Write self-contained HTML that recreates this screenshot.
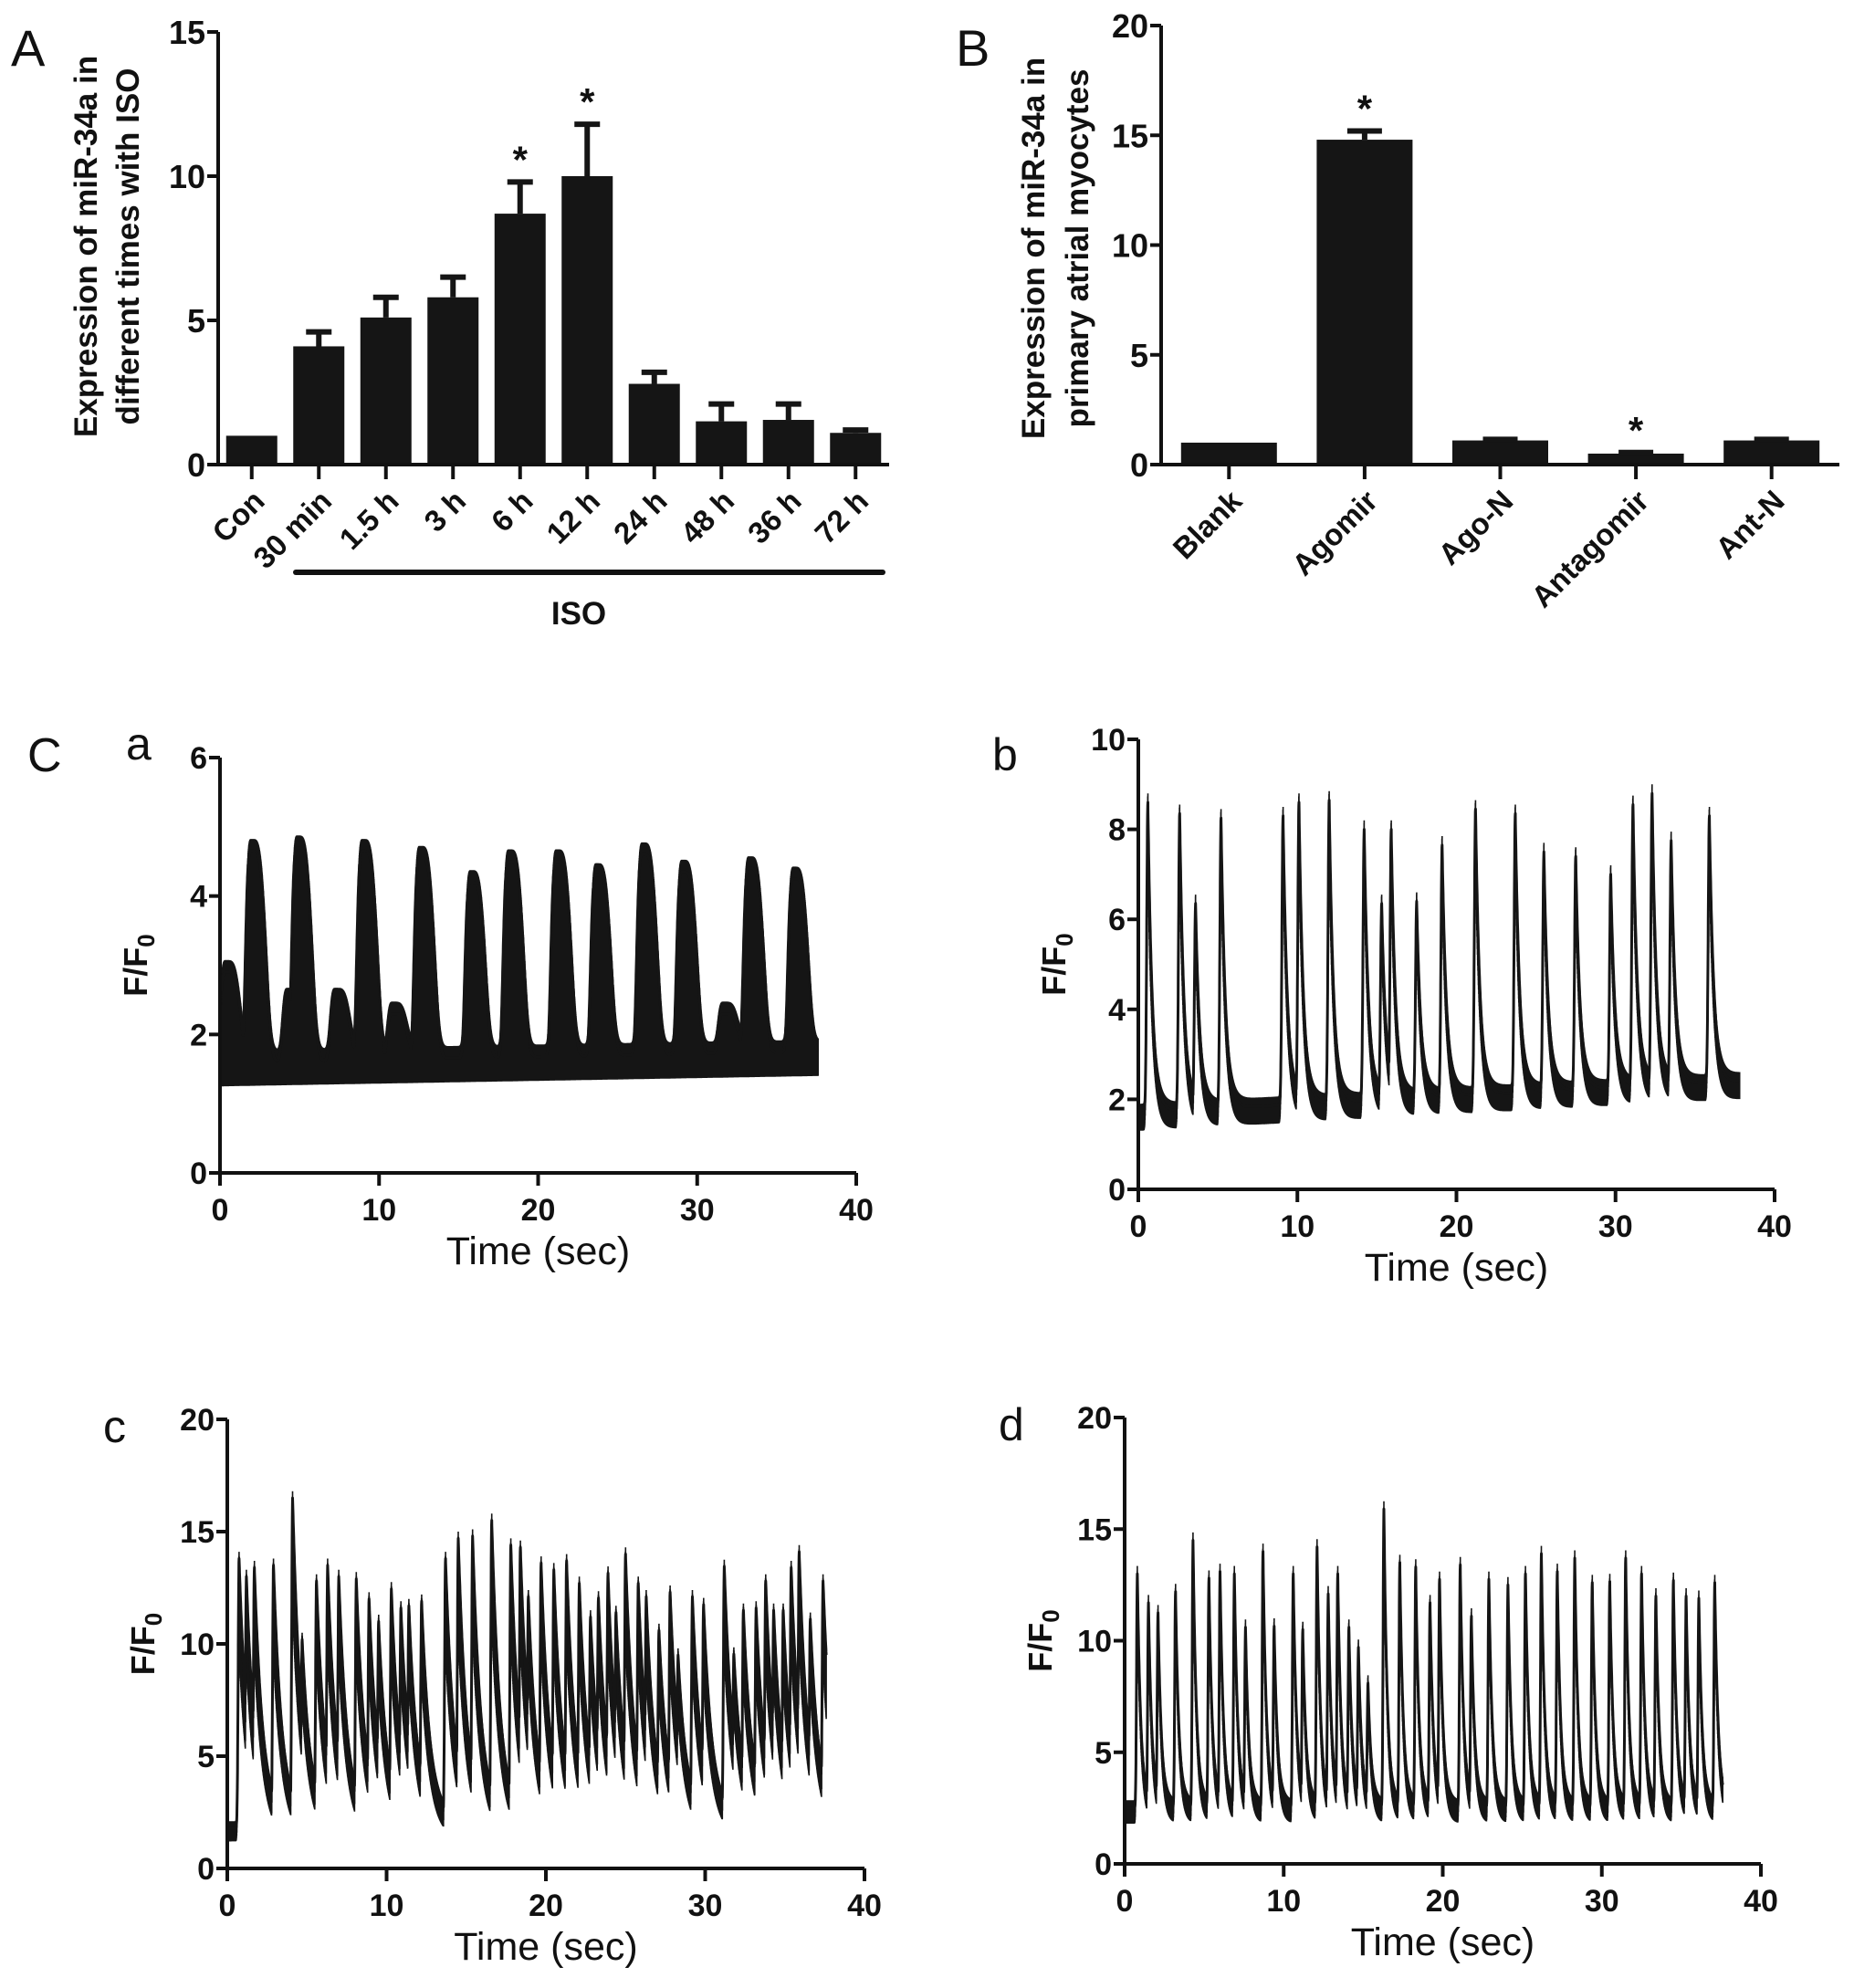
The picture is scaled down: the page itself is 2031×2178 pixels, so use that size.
<!DOCTYPE html>
<html><head><meta charset="utf-8"><style>
html,body{margin:0;padding:0;background:#fff;}
svg{display:block;}
text{font-family:"Liberation Sans",Arial,sans-serif;fill:#111;}
</style></head><body>
<svg id="fig" width="2031" height="2178" viewBox="0 0 2031 2178" xmlns="http://www.w3.org/2000/svg">
<text x="12" y="72" font-size="56">A</text>
<text x="1047" y="72" font-size="56">B</text>
<text x="30" y="845" font-size="52">C</text>
<text x="138" y="832" font-size="50">a</text>
<text x="1087" y="844" font-size="50">b</text>
<text x="113" y="1580" font-size="50">c</text>
<text x="1094" y="1578" font-size="50">d</text>
</svg>
<script>
// ---- Panel A data ----
const catsA = ["Con","30 min","1.5 h","3 h","6 h","12 h","24 h","48 h","36 h","72 h"];
const valsA = [1.0,4.1,5.1,5.8,8.7,10.0,2.8,1.5,1.55,1.1];
const errA  = [0.0,0.5,0.7,0.7,1.1,1.8,0.4,0.6,0.55,0.1];
const sigA  = [0,0,0,0,1,1,0,0,0,0];
const ticksA = [0,5,10,15];
// ---- Panel B data ----
const catsB = ["Blank","Agomir","Ago-N","Antagomir","Ant-N"];
const valsB = [1.0,14.8,1.1,0.5,1.1];
const errB  = [0.0,0.4,0.05,0.05,0.05];
const sigB  = [0,1,0,1,0];
const ticksB = [0,5,10,15,20];
// ---- Trace a ----
const peakTA = [2.0,4.9,9.0,12.6,15.8,18.2,21.2,23.7,26.6,29.1,33.3,36.1,0.4,4.3,7.3,10.9,31.7];
const peakVA = [4.65,4.7,4.65,4.55,4.2,4.5,4.5,4.3,4.6,4.35,4.4,4.25,2.9,2.5,2.5,2.3,2.3];
const ticksYa = [0,2,4,6];
// ---- Trace b ----
const peakTB = [0.6,2.6,3.6,5.2,9.1,10.1,12.0,14.2,15.3,15.9,17.5,19.1,21.2,23.7,25.5,27.5,29.7,31.1,32.3,33.5,35.9];
const peakVB = [8.6,8.35,6.35,8.25,8.3,8.6,8.65,8.0,6.35,8.0,6.4,7.65,8.45,8.35,7.5,7.4,7.0,8.55,8.8,7.75,8.3];
const ticksYb = [0,2,4,6,8,10];
// ---- Trace c ----
const peakTC = [0.74,1.2,1.7,2.9,4.1,4.7,5.6,6.3,7.0,8.1,8.9,9.5,10.3,10.9,11.4,12.2,13.7,14.5,15.4,16.6,17.8,18.4,18.9,19.7,20.5,21.3,22.1,22.8,23.3,23.9,24.4,25.0,25.8,26.3,27.1,27.8,28.3,29.2,29.9,31.2,31.8,32.4,33.2,33.8,34.3,34.9,35.4,35.9,36.6,37.4];
const peakVC = [13.8,13.0,13.4,13.5,16.5,10.2,12.8,13.5,13.0,12.9,12.0,11.0,12.45,11.6,11.7,11.9,13.8,14.7,14.8,15.5,14.4,14.3,12.1,13.6,13.3,13.7,12.7,11.2,12.05,13.15,11.4,14.0,12.7,12.1,10.6,12.3,9.5,12.1,11.75,13.45,9.55,11.5,11.6,12.8,11.5,11.5,13.4,14.1,11.1,12.8];
const ticksYc = [0,5,10,15,20];
// ---- Trace d ----
const peakTD = [0.8,1.5,2.1,3.2,4.3,5.3,6.0,6.9,7.6,8.7,9.4,10.6,11.2,12.1,12.8,13.4,14.1,14.7,15.3,16.3,17.3,18.3,19.2,19.8,21.1,21.8,22.9,24.1,25.2,26.2,27.2,28.3,29.4,30.5,31.5,32.5,33.4,34.5,35.3,36.1,37.1];
const peakVD = [13.0,11.7,11.25,12.2,14.5,12.8,13.1,13.0,10.6,14.0,10.65,13.0,10.5,14.2,12.1,13.0,10.6,9.7,8.1,15.9,13.5,13.3,11.7,12.75,13.4,11.1,12.75,12.5,13.0,13.9,13.1,13.7,12.6,12.65,13.7,13.0,12.0,12.7,12.0,11.9,12.6];
const ticksYd = [0,5,10,15,20];
const ticksX = [0,10,20,30,40];

const NS="http://www.w3.org/2000/svg";
const svg=document.getElementById('fig');
function mk(tag,attrs,parent){const e=document.createElementNS(NS,tag);for(const k in attrs)e.setAttribute(k,attrs[k]);(parent||svg).appendChild(e);return e;}

function barPanel(cfg,cats,vals,errs,sig,ticks,name){
  const g=mk('g',{});
  
  
  const ys=v=>cfg.y0-(v/cfg.ymax)*(cfg.y0-cfg.ytop);
  const band=(cfg.x1-cfg.x0)/cats.length;
  const xs=i=>cfg.x0+(i+0.5)*band;
  cats.forEach((c,i)=>{
    const cx=xs(i),bw=cfg.bw;
    const r=mk('rect',{x:cx-bw/2,y:ys(vals[i]),width:bw,height:cfg.y0-ys(vals[i]),fill:'#151515'},g);
    
    
    if(errs[i]>0){
      const top=ys(vals[i]+errs[i]);
      const l=mk('path',{d:`M${cx},${ys(vals[i])}V${top}M${cx-cfg.cap/2},${top}H${cx+cfg.cap/2}`,stroke:'#151515','stroke-width':6,fill:'none'},g);
      
      
    }
    if(sig[i]){
      const s=mk('text',{x:cx,y:ys(vals[i]+errs[i])-10,'font-size':42,'font-weight':'bold','text-anchor':'middle'},g);
      s.textContent='*';
      
      
    }
    mk('line',{x1:cx,x2:cx,y1:cfg.y0,y2:cfg.y0+16,stroke:'#111','stroke-width':4},g);
    const t=mk('text',{x:0,y:0,'font-size':33,'font-weight':'bold','text-anchor':'end',transform:`translate(${cx+16},${cfg.y0+42}) rotate(-45)`},g);
    t.textContent=c;
    
    
  });
  const ax=mk('path',{d:`M${cfg.x0},${cfg.ytop}V${cfg.y0}H${cfg.x1}`,stroke:'#111','stroke-width':4,fill:'none'},g);
  
  
  ticks.forEach(v=>{
    mk('line',{x1:cfg.x0-12,x2:cfg.x0,y1:ys(v),y2:ys(v),stroke:'#111','stroke-width':4},g);
    const t=mk('text',{x:cfg.x0-14,y:ys(v)+13,'font-size':36,'font-weight':'bold','text-anchor':'end'},g);
    t.textContent=v;
    
    
  });
  cfg.title.forEach((line,k)=>{
    const t=mk('text',{x:0,y:0,'font-size':35,'font-weight':'bold','text-anchor':'middle',transform:`translate(${cfg.titleX[k]},${cfg.titleY}) rotate(-90)`},g);
    t.textContent=line;
    
    
  });
}

barPanel({x0:239,x1:974,y0:509,ytop:35,ymax:15,bw:56,cap:28,title:["Expression of miR-34a in","different times with ISO"],titleX:[106,152],titleY:270},catsA,valsA,errA,sigA,ticksA,'bar-chart-a');
barPanel({x0:1272,x1:2015,y0:509,ytop:28,ymax:20,bw:105,cap:38,title:["Expression of miR-34a in","primary atrial myocytes"],titleX:[1144,1192],titleY:272},catsB,valsB,errB,sigB,ticksB,'bar-chart-b');

const iso=mk('line',{x1:324,x2:967,y1:627,y2:627,stroke:'#111','stroke-width':6,'stroke-linecap':'round'});


const isoT=mk('text',{x:634,y:684,'font-size':35,'font-weight':'bold','text-anchor':'middle'});
isoT.textContent='ISO';



function tracePanel(cfg,pt,pv,yticks,name){
  const g=mk('g',{});
  
  
  const xs=t=>cfg.x0+(t/40)*(cfg.x1-cfg.x0);
  const ys=v=>cfg.y0-(v/cfg.ymax)*(cfg.y0-cfg.ytop);
  const pts=[];let seg='';
  for(let t=0;t<=cfg.tend+1e-9;t+=0.01){
    const base=cfg.b0+(cfg.b1-cfg.b0)*(t/cfg.tend);
    let v=base;
    for(let i=0;i<pt.length;i++){
      const dt=t-pt[i],A=pv[i]-base;
      let gval;
      if(cfg.broad){gval=dt<0?Math.exp(-Math.pow(-dt/cfg.wl,4)):Math.exp(-Math.pow(dt/cfg.wr,4));}
      else{gval=dt<0?Math.exp(-Math.pow(dt/cfg.wl,2)):Math.exp(-dt/cfg.wr);}
      v=Math.max(v,base+A*gval);
    }
    const lower=cfg.fill?(base-cfg.n):(v-cfg.n-cfg.f*(v-base));
    const x=xs(t).toFixed(1);
    pts.push(x+','+ys(v).toFixed(1));
    seg+=`M${x},${ys(v+cfg.n*0.5).toFixed(1)}V${ys(Math.max(0.2,lower)).toFixed(1)}`;
  }
  const nb=mk('path',{d:seg,fill:'none',stroke:'#151515','stroke-width':1.6},g);
  
  
  const ln=mk('polyline',{points:pts.join(' '),fill:'none',stroke:'#151515','stroke-width':3,'stroke-linejoin':'round'},g);
  
  
  const ax=mk('path',{d:`M${cfg.x0},${cfg.ytop}V${cfg.y0}H${cfg.x1}`,stroke:'#111','stroke-width':4,fill:'none'},g);
  
  
  yticks.forEach(v=>{
    mk('line',{x1:cfg.x0-12,x2:cfg.x0,y1:ys(v),y2:ys(v),stroke:'#111','stroke-width':4},g);
    const t=mk('text',{x:cfg.x0-14,y:ys(v)+12,'font-size':34,'font-weight':'bold','text-anchor':'end'},g);
    t.textContent=v;
    
    
  });
  ticksX.forEach(v=>{
    mk('line',{x1:xs(v),x2:xs(v),y1:cfg.y0,y2:cfg.y0+14,stroke:'#111','stroke-width':4},g);
    const t=mk('text',{x:xs(v),y:cfg.y0+52,'font-size':34,'font-weight':'bold','text-anchor':'middle'},g);
    t.textContent=v;
    
    
  });
  const xt=mk('text',{x:(cfg.x0+cfg.x1)/2,y:cfg.y0+100,'font-size':43,'text-anchor':'middle'},g);
  xt.textContent='Time (sec)';
  
  
  const yt=mk('text',{x:0,y:0,'font-size':36,'font-weight':'bold','text-anchor':'middle',transform:`translate(${cfg.x0-80},${(cfg.y0+cfg.ytop)/2}) rotate(-90)`},g);
  yt.innerHTML='F/F<tspan font-size="26" dy="8">0</tspan>';
  
  
}

tracePanel({x0:241,x1:938,y0:1285,ytop:830,ymax:6,tend:37.6,b0:1.6,b1:1.75,n:0.35,f:0,fill:true,broad:true,wl:0.45,wr:1.0},peakTA,peakVA,ticksYa,'trace-chart-a');
tracePanel({x0:1247,x1:1944,y0:1303,ytop:810,ymax:10,tend:37.8,b0:1.7,b1:2.4,n:0.4,f:0.15,fill:false,broad:false,wl:0.1,wr:0.28},peakTB,peakVB,ticksYb,'trace-chart-b');
tracePanel({x0:249,x1:947,y0:2047,ytop:1555,ymax:20,tend:37.6,b0:1.8,b1:2.0,n:0.6,f:0.3,fill:false,broad:false,wl:0.08,wr:0.55},peakTC,peakVC,ticksYc,'trace-chart-c');
tracePanel({x0:1232,x1:1929,y0:2042,ytop:1553,ymax:20,tend:37.6,b0:2.5,b1:2.5,n:0.7,f:0.1,fill:false,broad:false,wl:0.07,wr:0.22},peakTD,peakVD,ticksYd,'trace-chart-d');
</script>
</body></html>
